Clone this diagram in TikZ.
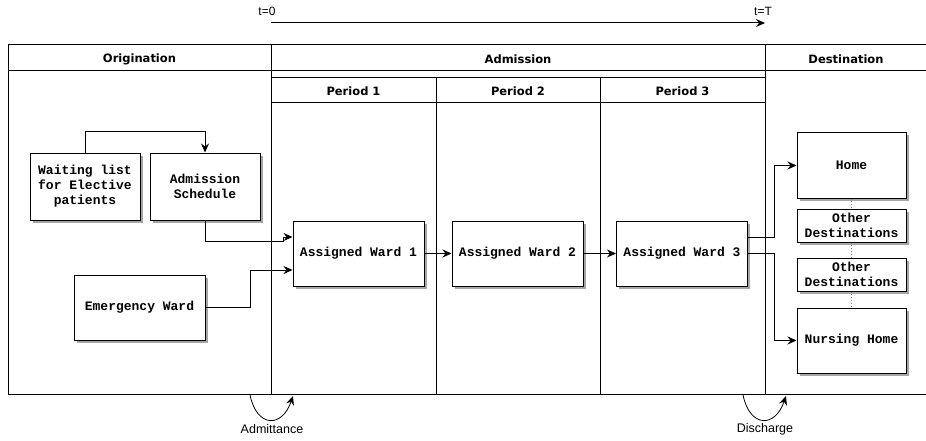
\documentclass[tikz,border=0pt]{standalone}
\usepackage{fontspec}
\setmonofont{Liberation Mono}
\newfontfamily\hdrfont{DejaVu Sans}
\newfontfamily\lblfont{Liberation Sans}
\usetikzlibrary{arrows.meta,shadows,calc}
\begin{document}
\begin{tikzpicture}[x=1pt,y=-1pt,
  tbl/.style={line width=1pt},
  hdr/.style={font=\hdrfont\bfseries\fontsize{11.5}{13}\selectfont},
  lbl/.style={font=\lblfont\fontsize{12.5}{14}\selectfont},
  box/.style={draw,fill=white,line width=1pt,align=center,inner sep=0pt,
    font=\ttfamily\bfseries\fontsize{13}{15}\selectfont,
    drop shadow={shadow xshift=2.5pt,shadow yshift=-2.5pt,fill=black,opacity=0.35}},
  arr/.style={line width=1pt,-{Stealth[length=9pt,width=8pt,inset=3pt]}},
  dots/.style={line width=0.8pt,dotted,gray}]
\useasboundingbox (0,0) rectangle (926,441);
% time axis
\node[lbl,font=\lblfont\fontsize{12}{14}\selectfont] (t0) at (267,11) {t=0};
\node[lbl,font=\lblfont\fontsize{12}{14}\selectfont] (tT) at (763,11) {t=T};
\coordinate (ta) at (271,23);
\coordinate (tb) at (765,23);
\draw[arr] (ta) -- (tb);
% table
\draw[tbl] (8,45) rectangle (930,394);
\draw[tbl] (8,71) -- (930,71);
\draw[tbl] (271,45) -- (271,394);
\draw[tbl] (765,45) -- (765,394);
\draw[tbl] (271,78) -- (765,78);
\draw[tbl] (271,103) -- (765,103);
\draw[tbl] (436,78) -- (436,394);
\draw[tbl] (600,78) -- (600,394);
\node[hdr] (horig) at (139.5,59) {Origination};
\node[hdr] (hadm) at (518,59) {Admission};
\node[hdr] (hdest) at (846,59) {Destination};
\node[hdr] (p1) at (353.5,91) {Period 1};
\node[hdr] (p2) at (518,91) {Period 2};
\node[hdr] (p3) at (682.5,91) {Period 3};
% nodes
\node[box,minimum width=110pt,minimum height=67pt] (wait) at (85,186.5) {Waiting list\\for Elective\\patients};
\node[box,minimum width=110pt,minimum height=67pt] (sched) at (205,186.5) {Admission\\Schedule};
\node[box,minimum width=131pt,minimum height=65pt] (emerg) at (139.5,307.5) {Emergency Ward};
\node[box,minimum width=131pt,minimum height=65pt] (w1) at (358.5,253.5) {Assigned Ward 1};
\node[box,minimum width=131pt,minimum height=65pt] (w2) at (517.5,253.5) {Assigned Ward 2};
\node[box,minimum width=131pt,minimum height=65pt] (w3) at (682,253.5) {Assigned Ward 3};
\node[box,minimum width=109pt,minimum height=65pt] (home) at (851.5,165.5) {Home};
\node[box,minimum width=109pt,minimum height=33pt] (oth1) at (851.5,225.5) {Other\\Destinations};
\node[box,minimum width=109pt,minimum height=33pt] (oth2) at (851.5,274.5) {Other\\Destinations};
\node[box,minimum width=109pt,minimum height=65pt] (nurse) at (851.5,340.5) {Nursing Home};
% connectors
\coordinate (w1in1) at ($(w1.north west)!0.25!(w1.south west)$);
\coordinate (w1in2) at ($(w1.north west)!0.75!(w1.south west)$);
\coordinate (w3out1) at ($(w3.north east)!0.25!(w3.south east)$);
\draw[arr] (wait.north) -- ++(0,-21) -| (sched.north);
\draw[arr] (sched.south) |- (283,241) |- (w1in1);
\draw[arr] (emerg.east) -- ++(45,0) |- (w1in2);
\draw[arr] (w1.east) -- (w2.west);
\draw[arr] (w2.east) -- (w3.west);
\draw[arr] (w3out1) -- ++(26,0) |- (home.west);
\draw[arr] (w3.east) -- ++(26,0) |- (nurse.west);
\draw[dots] (home.south) -- (oth1.north);
\draw[dots] (oth1.south) -- (oth2.north);
\draw[dots] (oth2.south) -- (nurse.north);
% admittance / discharge
\coordinate (a1) at (250,395);
\coordinate (a2) at (293,396);
\draw[arr,line width=0.8pt] (a1) .. controls (257,428) and (282,428) .. (a2);
\node[lbl] (adm) at (272,429) {Admittance};
\coordinate (d1) at (743,395);
\coordinate (d2) at (786,396);
\draw[arr,line width=0.8pt] (d1) .. controls (750,428) and (775,428) .. (d2);
\node[lbl] (dis) at (765,429) {Discharge};
\end{tikzpicture}
\end{document}
